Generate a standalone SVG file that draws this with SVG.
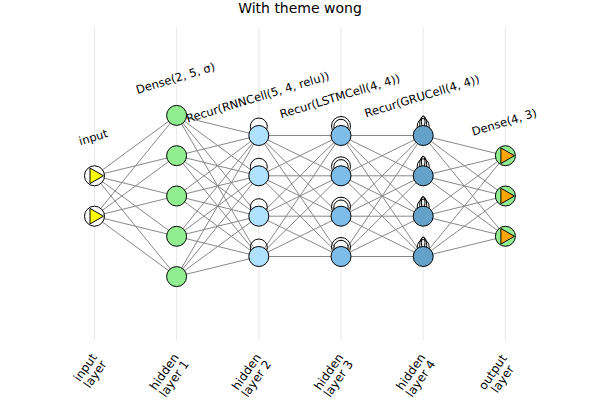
<svg xmlns="http://www.w3.org/2000/svg" width="600" height="400" viewBox="0 0 600 400">
<style>
text{font-family:"DejaVu Sans","Liberation Sans",sans-serif;fill:#000}
.grid{stroke:#e8e8e8;stroke-width:1}
.e{stroke:#888;stroke-width:1}
.n{stroke:#000;stroke-width:1}
.loop{fill:none;stroke:#000;stroke-width:1}
.lbl{font-size:11.5px;text-anchor:middle}
.tick{font-size:12px;text-anchor:middle}
.in{fill:#fff}.h1{fill:#90ee90}.h2{fill:#b0e2ff}.h3{fill:#7ebdea}.h4{fill:#64a2c9}.out{fill:#90ee90}
.ty{fill:#ffff00;stroke:#000}.to{fill:#ffa500;stroke:#000}
</style>
<rect width="600" height="400" fill="#fff"/>
<g id="grid">
<line class="grid" x1="94.5" y1="27" x2="94.5" y2="340"/>
<line class="grid" x1="176.6" y1="27" x2="176.6" y2="340"/>
<line class="grid" x1="258.8" y1="27" x2="258.8" y2="340"/>
<line class="grid" x1="341" y1="27" x2="341" y2="340"/>
<line class="grid" x1="423.2" y1="27" x2="423.2" y2="340"/>
<line class="grid" x1="505.4" y1="27" x2="505.4" y2="340"/>
</g>
<text x="300" y="13" font-size="14" text-anchor="middle">With theme wong</text>
<g id="connectors">
<path class="e" fill="none" d="M94.5 175.8L176.6 115.4M94.5 175.8L176.6 155.7M94.5 175.8L176.6 196M94.5 175.8L176.6 236.3M94.5 175.8L176.6 276.6M94.5 216.2L176.6 115.4M94.5 216.2L176.6 155.7M94.5 216.2L176.6 196M94.5 216.2L176.6 236.3M94.5 216.2L176.6 276.6"/>
<path class="e" fill="none" d="M176.6 115.4L258.8 135.5M176.6 115.4L258.8 175.8M176.6 115.4L258.8 216.2M176.6 115.4L258.8 256.5M176.6 155.7L258.8 135.5M176.6 155.7L258.8 175.8M176.6 155.7L258.8 216.2M176.6 155.7L258.8 256.5M176.6 196L258.8 135.5M176.6 196L258.8 175.8M176.6 196L258.8 216.2M176.6 196L258.8 256.5M176.6 236.3L258.8 135.5M176.6 236.3L258.8 175.8M176.6 236.3L258.8 216.2M176.6 236.3L258.8 256.5M176.6 276.6L258.8 135.5M176.6 276.6L258.8 175.8M176.6 276.6L258.8 216.2M176.6 276.6L258.8 256.5"/>
<path class="e" fill="none" d="M258.8 135.5L341 135.5M258.8 135.5L341 175.8M258.8 135.5L341 216.2M258.8 135.5L341 256.5M258.8 175.8L341 135.5M258.8 175.8L341 175.8M258.8 175.8L341 216.2M258.8 175.8L341 256.5M258.8 216.2L341 135.5M258.8 216.2L341 175.8M258.8 216.2L341 216.2M258.8 216.2L341 256.5M258.8 256.5L341 135.5M258.8 256.5L341 175.8M258.8 256.5L341 216.2M258.8 256.5L341 256.5"/>
<path class="e" fill="none" d="M341 135.5L423.2 135.5M341 135.5L423.2 175.8M341 135.5L423.2 216.2M341 135.5L423.2 256.5M341 175.8L423.2 135.5M341 175.8L423.2 175.8M341 175.8L423.2 216.2M341 175.8L423.2 256.5M341 216.2L423.2 135.5M341 216.2L423.2 175.8M341 216.2L423.2 216.2M341 216.2L423.2 256.5M341 256.5L423.2 135.5M341 256.5L423.2 175.8M341 256.5L423.2 216.2M341 256.5L423.2 256.5"/>
<path class="e" fill="none" d="M423.2 135.5L505.4 155.7M423.2 135.5L505.4 196M423.2 135.5L505.4 236.3M423.2 175.8L505.4 155.7M423.2 175.8L505.4 196M423.2 175.8L505.4 236.3M423.2 216.2L505.4 155.7M423.2 216.2L505.4 196M423.2 216.2L505.4 236.3M423.2 256.5L505.4 155.7M423.2 256.5L505.4 196M423.2 256.5L505.4 236.3"/>
</g>
<defs>
<g id="rnnloop"><circle class="loop" cx="0" cy="-9" r="8.5"/></g>
<g id="lstmloop"><circle class="loop" cx="0" cy="-9.5" r="9.5"/><circle class="loop" cx="0" cy="-9" r="7.2"/></g>
<g id="gruloop"><ellipse class="loop" cx="0" cy="-9" rx="6" ry="8"/><ellipse class="loop" cx="0" cy="-11" rx="3.5" ry="8.5"/><ellipse class="loop" cx="0" cy="-14" rx="1.8" ry="5.5"/></g>
<polygon id="tri" points="9,0 -4.5,-7.8 -4.5,7.8"/>
</defs>
<g id="input-layer">
<g id="in1"><circle class="n in" cx="94.5" cy="175.8" r="10"/><use href="#tri" x="94.5" y="175.8" class="ty"/></g>
<g id="in2"><circle class="n in" cx="94.5" cy="216.2" r="10"/><use href="#tri" x="94.5" y="216.2" class="ty"/></g>
</g>
<g id="hidden-layer-1">
<g id="h1n1"><circle class="n h1" cx="176.6" cy="115.4" r="10"/></g>
<g id="h1n2"><circle class="n h1" cx="176.6" cy="155.7" r="10"/></g>
<g id="h1n3"><circle class="n h1" cx="176.6" cy="196" r="10"/></g>
<g id="h1n4"><circle class="n h1" cx="176.6" cy="236.3" r="10"/></g>
<g id="h1n5"><circle class="n h1" cx="176.6" cy="276.6" r="10"/></g>
</g>
<g id="hidden-layer-2">
<g id="h2n1"><use href="#rnnloop" x="258.8" y="135.5"/><circle class="n h2" cx="258.8" cy="135.5" r="10"/></g>
<g id="h2n2"><use href="#rnnloop" x="258.8" y="175.8"/><circle class="n h2" cx="258.8" cy="175.8" r="10"/></g>
<g id="h2n3"><use href="#rnnloop" x="258.8" y="216.2"/><circle class="n h2" cx="258.8" cy="216.2" r="10"/></g>
<g id="h2n4"><use href="#rnnloop" x="258.8" y="256.5"/><circle class="n h2" cx="258.8" cy="256.5" r="10"/></g>
</g>
<g id="hidden-layer-3">
<g id="h3n1"><use href="#lstmloop" x="341" y="135.5"/><circle class="n h3" cx="341" cy="135.5" r="10"/></g>
<g id="h3n2"><use href="#lstmloop" x="341" y="175.8"/><circle class="n h3" cx="341" cy="175.8" r="10"/></g>
<g id="h3n3"><use href="#lstmloop" x="341" y="216.2"/><circle class="n h3" cx="341" cy="216.2" r="10"/></g>
<g id="h3n4"><use href="#lstmloop" x="341" y="256.5"/><circle class="n h3" cx="341" cy="256.5" r="10"/></g>
</g>
<g id="hidden-layer-4">
<g id="h4n1"><use href="#gruloop" x="423.2" y="135.5"/><circle class="n h4" cx="423.2" cy="135.5" r="10"/></g>
<g id="h4n2"><use href="#gruloop" x="423.2" y="175.8"/><circle class="n h4" cx="423.2" cy="175.8" r="10"/></g>
<g id="h4n3"><use href="#gruloop" x="423.2" y="216.2"/><circle class="n h4" cx="423.2" cy="216.2" r="10"/></g>
<g id="h4n4"><use href="#gruloop" x="423.2" y="256.5"/><circle class="n h4" cx="423.2" cy="256.5" r="10"/></g>
</g>
<g id="output-layer">
<g id="o1"><circle class="n out" cx="505.4" cy="155.7" r="10"/><use href="#tri" x="505.4" y="155.7" class="to"/></g>
<g id="o2"><circle class="n out" cx="505.4" cy="196" r="10"/><use href="#tri" x="505.4" y="196" class="to"/></g>
<g id="o3"><circle class="n out" cx="505.4" cy="236.3" r="10"/><use href="#tri" x="505.4" y="236.3" class="to"/></g>
</g>
<g id="layer-labels">
<text class="lbl" transform="translate(94.5,141) rotate(-17)">input</text>
<text class="lbl" transform="translate(176.6,82) rotate(-17)">Dense(2, 5, σ)</text>
<text class="lbl" transform="translate(258.8,101) rotate(-17)">Recur(RNNCell(5, 4, relu))</text>
<text class="lbl" transform="translate(341,100) rotate(-17)">Recur(LSTMCell(4, 4))</text>
<text class="lbl" transform="translate(423.2,100) rotate(-17)">Recur(GRUCell(4, 4))</text>
<text class="lbl" transform="translate(505.4,126) rotate(-17)">Dense(4, 3)</text>
</g>
<g id="axis-ticks">
<text class="tick" transform="translate(97.5,357) rotate(-55)"><tspan x="-15.5" y="0">input</tspan><tspan x="-15.5" y="12">layer</tspan></text>
<text class="tick" transform="translate(179.5,357) rotate(-55)"><tspan x="-20.8" y="0">hidden</tspan><tspan x="-20.8" y="12">layer 1</tspan></text>
<text class="tick" transform="translate(261.7,357) rotate(-55)"><tspan x="-20.8" y="0">hidden</tspan><tspan x="-20.8" y="12">layer 2</tspan></text>
<text class="tick" transform="translate(343.9,357) rotate(-55)"><tspan x="-20.8" y="0">hidden</tspan><tspan x="-20.8" y="12">layer 3</tspan></text>
<text class="tick" transform="translate(426.1,357) rotate(-55)"><tspan x="-20.8" y="0">hidden</tspan><tspan x="-20.8" y="12">layer 4</tspan></text>
<text class="tick" transform="translate(508.3,357) rotate(-55)"><tspan x="-21.3" y="0">output</tspan><tspan x="-21.3" y="12">layer</tspan></text>
</g>
</svg>
